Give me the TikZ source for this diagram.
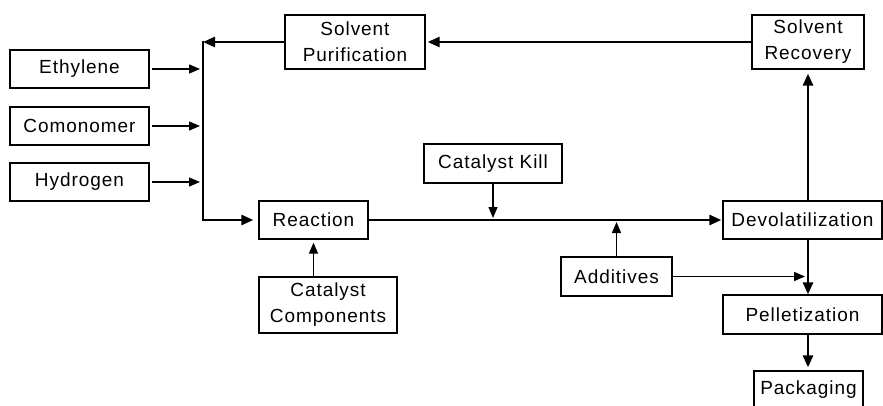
\documentclass[tikz,border=0pt]{standalone}
\usepackage{fontspec}
\setmainfont{Liberation Sans}[LetterSpace=5]
\usetikzlibrary{arrows.meta}
\begin{document}
\begin{tikzpicture}[x=1pt,y=-1pt,
  box/.style={draw, line width=1.3pt, inner sep=0pt, align=center,
    font=\fontsize{19}{26}\selectfont},
  flow/.style={line width=2.6pt, -{Triangle[length=12pt,width=10pt]}},
  feed/.style={line width=1.3pt, -{Triangle[length=11pt,width=9pt]}}]
\useasboundingbox (0,0) rectangle (883,405);
% nodes
\node[box, minimum width=139pt, minimum height=38pt] (eth) at (79.5,69) {Ethylene};
\node[box, minimum width=139pt, minimum height=38pt] (com) at (79.5,126) {Comonomer};
\node[box, minimum width=139pt, minimum height=38pt] (hyd) at (79.5,182) {Hydrogen};
\node[box, minimum width=140pt, minimum height=54pt] (spur) at (355,42) {Solvent\\Purification};
\node[box, minimum width=112pt, minimum height=54pt] (srec) at (808,42) {Solvent\\Recovery};
\node[box, minimum width=109pt, minimum height=38pt] (react) at (313.5,220) {Reaction};
\node[box, minimum width=138pt, minimum height=56pt] (catc) at (328,305) {Catalyst\\Components};
\node[box, minimum width=138pt, minimum height=39pt] (kill) at (493,163.5) {Catalyst Kill};
\node[box, minimum width=159pt, minimum height=38pt] (devol) at (802.5,220) {Devolatilization};
\node[box, minimum width=111pt, minimum height=39pt] (add) at (616.5,276.5) {Additives};
\node[box, minimum width=159pt, minimum height=39pt] (pell) at (802.5,314.5) {Pelletization};
\node[box, minimum width=109pt, minimum height=38pt] (pack) at (808.5,390) {Packaging};
% bus coordinates
\coordinate (btop) at (203,42);
\coordinate (b1) at (203,69);
\coordinate (b2) at (203,126);
\coordinate (b3) at (203,182);
% feeds
\draw[feed, shorten <=2pt, shorten >=3pt] (eth.east) -- (b1);
\draw[feed, shorten <=2pt, shorten >=3pt] (com.east) -- (b2);
\draw[feed, shorten <=2pt, shorten >=3pt] (hyd.east) -- (b3);
% recycle
\draw[flow, shorten >=2pt] (srec.west) -- (spur.east);
\draw[flow] (spur.west) -- (btop);
\draw[flow, line cap=rect, shorten >=5pt] (btop) |- (react.west);
% main line
\draw[flow, shorten >=1pt] (react.east) -- (devol.west);
\draw[feed, shorten >=3pt] (catc.north -| react.south) -- (react.south);
\draw[feed, shorten >=2pt] (kill.south) -- (kill.south |- react.east);
\draw[feed, shorten >=2pt] (add.north) -- (add.north |- react.east);
% right column
\draw[flow, shorten >=4pt] (srec.south |- devol.north) -- (srec.south);
\draw[flow] (srec.south |- devol.south) -- (srec.south |- pell.north);
\draw[feed, shorten >=3pt] (add.east) -- (srec.south |- add.east);
\draw[flow, shorten >=3pt] (srec.south |- pell.south) -- (srec.south |- pack.north);
\end{tikzpicture}
\end{document}
